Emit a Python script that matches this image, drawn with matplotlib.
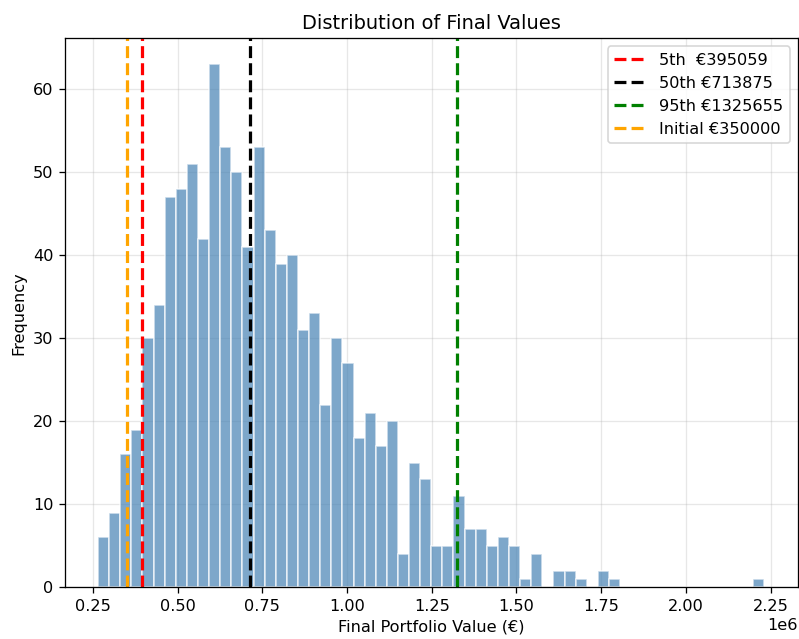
import numpy as np
import matplotlib
matplotlib.use("Agg")
import matplotlib.pyplot as plt

# histogram of 1000 simulated final portfolio values (60 bins)
bin_min = 265000
bin_max = 2232000
counts = [6, 9, 16, 19, 30, 34, 47, 48, 51, 42,
          63, 53, 50, 41, 53, 43, 39, 40, 31, 33,
          22, 30, 27, 18, 21, 17, 20, 4, 15, 13,
          5, 5, 11, 7, 7, 5, 6, 5, 1, 4,
          0, 2, 2, 1, 0, 2, 1, 0, 0, 0,
          0, 0, 0, 0, 0, 0, 0, 0, 0, 1]

p5 = 395059
p50 = 713875
p95 = 1325655
initial = 350000

edges = np.linspace(bin_min, bin_max, len(counts) + 1)
centers = (edges[:-1] + edges[1:]) / 2

dpi = 116
fig, ax = plt.subplots(figsize=(799 / dpi, 639 / dpi), dpi=dpi)
ax.hist(centers, bins=edges, weights=counts, color='steelblue', alpha=0.7, edgecolor='white')

ax.axvline(p5, color='red', linestyle='--', linewidth=2, label=f'5th  €{p5}')
ax.axvline(p50, color='black', linestyle='--', linewidth=2, label=f'50th €{p50}')
ax.axvline(p95, color='green', linestyle='--', linewidth=2, label=f'95th €{p95}')
ax.axvline(initial, color='orange', linestyle='--', linewidth=2, label=f'Initial €{initial}')

ax.set_title('Distribution of Final Values')
ax.set_xlabel('Final Portfolio Value (€)')
ax.set_ylabel('Frequency')
ax.set_axisbelow(True)
ax.grid(True, alpha=0.3)
ax.legend(loc='upper right')

fig.subplots_adjust(left=0.081, right=0.9985, top=0.94, bottom=0.081)
plt.savefig('out.png')
